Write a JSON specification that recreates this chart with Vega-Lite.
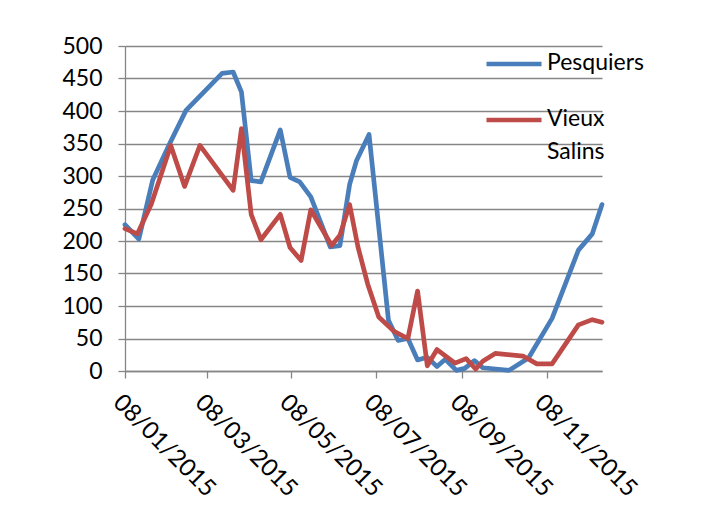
{
  "$schema": "https://vega.github.io/schema/vega-lite/v6.json",
  "autosize": {"type": "none"},
  "padding": {"left": 125, "top": 46, "right": 101, "bottom": 144},
  "width": 477,
  "height": 325,
  "background": "white",
  "config": {
    "font": "Lato",
    "view": {"stroke": null},
    "axis": {"labelFont": "Lato", "labelFontSize": 23, "labelColor": "#000000", "domainColor": "#868686", "tickColor": "#868686", "gridColor": "#868686", "domainWidth": 1.3, "tickWidth": 1.3, "gridWidth": 1.3, "title": null}
  },
  "data": {
    "values": [
      {"date": "2015-01-08", "series": "Pesquiers", "value": 225},
      {"date": "2015-01-18", "series": "Pesquiers", "value": 203},
      {"date": "2015-01-28", "series": "Pesquiers", "value": 294},
      {"date": "2015-02-09", "series": "Pesquiers", "value": 349},
      {"date": "2015-02-21", "series": "Pesquiers", "value": 401},
      {"date": "2015-03-19", "series": "Pesquiers", "value": 458},
      {"date": "2015-03-27", "series": "Pesquiers", "value": 460},
      {"date": "2015-04-02", "series": "Pesquiers", "value": 429},
      {"date": "2015-04-09", "series": "Pesquiers", "value": 293},
      {"date": "2015-04-16", "series": "Pesquiers", "value": 291},
      {"date": "2015-04-30", "series": "Pesquiers", "value": 371},
      {"date": "2015-05-07", "series": "Pesquiers", "value": 298},
      {"date": "2015-05-14", "series": "Pesquiers", "value": 291},
      {"date": "2015-05-22", "series": "Pesquiers", "value": 268},
      {"date": "2015-06-05", "series": "Pesquiers", "value": 191},
      {"date": "2015-06-12", "series": "Pesquiers", "value": 193},
      {"date": "2015-06-19", "series": "Pesquiers", "value": 287},
      {"date": "2015-06-24", "series": "Pesquiers", "value": 324},
      {"date": "2015-07-03", "series": "Pesquiers", "value": 364},
      {"date": "2015-07-17", "series": "Pesquiers", "value": 78},
      {"date": "2015-07-24", "series": "Pesquiers", "value": 47},
      {"date": "2015-07-31", "series": "Pesquiers", "value": 50},
      {"date": "2015-08-07", "series": "Pesquiers", "value": 17},
      {"date": "2015-08-14", "series": "Pesquiers", "value": 21},
      {"date": "2015-08-21", "series": "Pesquiers", "value": 7},
      {"date": "2015-08-27", "series": "Pesquiers", "value": 18},
      {"date": "2015-09-04", "series": "Pesquiers", "value": 1},
      {"date": "2015-09-10", "series": "Pesquiers", "value": 4},
      {"date": "2015-09-17", "series": "Pesquiers", "value": 16},
      {"date": "2015-09-23", "series": "Pesquiers", "value": 5},
      {"date": "2015-10-12", "series": "Pesquiers", "value": 1},
      {"date": "2015-10-26", "series": "Pesquiers", "value": 20},
      {"date": "2015-11-12", "series": "Pesquiers", "value": 81},
      {"date": "2015-12-01", "series": "Pesquiers", "value": 186},
      {"date": "2015-12-11", "series": "Pesquiers", "value": 211},
      {"date": "2015-12-18", "series": "Pesquiers", "value": 256},
      {"date": "2015-01-08", "series": "Vieux Salins", "value": 219},
      {"date": "2015-01-17", "series": "Vieux Salins", "value": 211},
      {"date": "2015-01-27", "series": "Vieux Salins", "value": 257},
      {"date": "2015-02-10", "series": "Vieux Salins", "value": 347},
      {"date": "2015-02-20", "series": "Vieux Salins", "value": 284},
      {"date": "2015-03-03", "series": "Vieux Salins", "value": 347},
      {"date": "2015-03-27", "series": "Vieux Salins", "value": 278},
      {"date": "2015-04-02", "series": "Vieux Salins", "value": 373},
      {"date": "2015-04-09", "series": "Vieux Salins", "value": 241},
      {"date": "2015-04-16", "series": "Vieux Salins", "value": 202},
      {"date": "2015-04-30", "series": "Vieux Salins", "value": 241},
      {"date": "2015-05-07", "series": "Vieux Salins", "value": 190},
      {"date": "2015-05-15", "series": "Vieux Salins", "value": 170},
      {"date": "2015-05-22", "series": "Vieux Salins", "value": 248},
      {"date": "2015-06-06", "series": "Vieux Salins", "value": 193},
      {"date": "2015-06-12", "series": "Vieux Salins", "value": 209},
      {"date": "2015-06-19", "series": "Vieux Salins", "value": 256},
      {"date": "2015-06-25", "series": "Vieux Salins", "value": 191},
      {"date": "2015-07-02", "series": "Vieux Salins", "value": 134},
      {"date": "2015-07-10", "series": "Vieux Salins", "value": 83},
      {"date": "2015-07-21", "series": "Vieux Salins", "value": 61},
      {"date": "2015-07-31", "series": "Vieux Salins", "value": 50},
      {"date": "2015-08-07", "series": "Vieux Salins", "value": 123},
      {"date": "2015-08-14", "series": "Vieux Salins", "value": 8},
      {"date": "2015-08-21", "series": "Vieux Salins", "value": 33},
      {"date": "2015-09-03", "series": "Vieux Salins", "value": 12},
      {"date": "2015-09-11", "series": "Vieux Salins", "value": 19},
      {"date": "2015-09-18", "series": "Vieux Salins", "value": 3},
      {"date": "2015-09-23", "series": "Vieux Salins", "value": 15},
      {"date": "2015-10-02", "series": "Vieux Salins", "value": 27},
      {"date": "2015-10-22", "series": "Vieux Salins", "value": 23},
      {"date": "2015-11-01", "series": "Vieux Salins", "value": 11},
      {"date": "2015-11-12", "series": "Vieux Salins", "value": 11},
      {"date": "2015-12-01", "series": "Vieux Salins", "value": 71},
      {"date": "2015-12-11", "series": "Vieux Salins", "value": 79},
      {"date": "2015-12-18", "series": "Vieux Salins", "value": 75}
    ]
  },
  "mark": {"type": "line", "strokeWidth": 4.7, "strokeJoin": "round", "strokeCap": "round"},
  "encoding": {
    "x": {
      "field": "date",
      "type": "temporal",
      "scale": {"type": "utc", "domain": [{"year": 2015, "month": 1, "date": 8, "utc": true}, {"year": 2015, "month": 12, "date": 18, "utc": true}]},
      "axis": {
        "values": [
          {"year": 2015, "month": 1, "date": 8, "utc": true},
          {"year": 2015, "month": 3, "date": 8, "utc": true},
          {"year": 2015, "month": 5, "date": 8, "utc": true},
          {"year": 2015, "month": 7, "date": 8, "utc": true},
          {"year": 2015, "month": 9, "date": 8, "utc": true},
          {"year": 2015, "month": 11, "date": 8, "utc": true}
        ],
        "format": "%d/%m/%Y",
        "labelAngle": 45,
        "labelAlign": "left",
        "labelBaseline": "top",
        "labelFontSize": 24,
        "tickSize": 7,
        "labelPadding": 12,
        "grid": false,
        "labelOverlap": false,
        "labelFlush": false
      }
    },
    "y": {
      "field": "value",
      "type": "quantitative",
      "scale": {"domain": [0, 500], "nice": false},
      "axis": {
        "values": [0, 50, 100, 150, 200, 250, 300, 350, 400, 450, 500],
        "tickSize": 7,
        "labelPadding": 16,
        "grid": true
      }
    },
    "color": {
      "field": "series",
      "type": "nominal",
      "scale": {"domain": ["Pesquiers", "Vieux Salins"], "range": ["#4A7EBB", "#BE4B48"]},
      "legend": {
        "title": null,
        "orient": "none",
        "legendX": 359,
        "legendY": -12,
        "symbolType": "stroke",
        "symbolSize": 3025,
        "symbolStrokeWidth": 4.7,
        "labelFont": "Lato",
        "labelFontSize": 23,
        "labelColor": "#000000",
        "labelOffset": 3,
        "labelLimit": 200,
        "rowPadding": 15,
        "labelExpr": "datum.label == 'Vieux Salins' ? ['Vieux', 'Salins'] : datum.label",
        "labelBaseline": "top",
        "encode": {"labels": {"update": {"dy": {"value": -12}, "lineHeight": {"value": 33}}}}
      }
    }
  }
}
